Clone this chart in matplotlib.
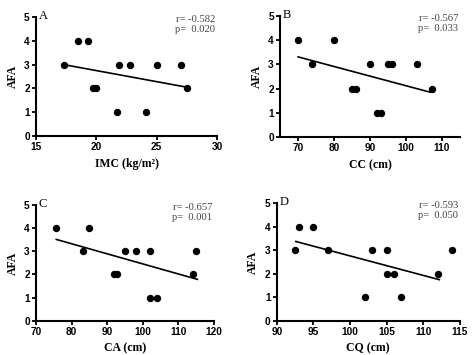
import matplotlib.pyplot as plt

# panel A: IMC
imc_x = [17.3, 18.5, 19.3, 19.7, 20.0, 21.7, 21.85, 22.8, 24.1, 25.0, 27.0, 27.5]
imc_y = [3, 4, 4, 2, 2, 1, 3, 3, 1, 3, 3, 2]
imc_fit = ([17.3, 27.5], [3.0, 2.05])

# panel B: CC
cc_x = [70, 74, 80, 85, 86, 90, 92, 93, 95, 96, 103, 107.3]
cc_y = [4, 3, 4, 2, 2, 3, 1, 1, 3, 3, 3, 2]
cc_fit = ([70, 106.8], [3.31, 1.85])

# panel C: CA
ca_x = [75.7, 83.2, 84.8, 91.8, 92.7, 94.9, 98, 102, 102, 104, 114.1, 115.1]
ca_y = [4, 3, 4, 2, 2, 3, 3, 3, 1, 1, 2, 3]
ca_fit = ([75.7, 115.4], [3.51, 1.79])

# panel D: CQ
cq_x = [92.5, 93.0, 95, 97, 102, 103, 105, 105, 106, 107, 112, 114]
cq_y = [3, 4, 4, 3, 1, 3, 3, 2, 2, 1, 2, 3]
cq_fit = ([92.6, 112.2], [3.37, 1.75])

panels = [
    ("A", imc_x, imc_y, imc_fit, "IMC (kg/m\u00b2)", (15, 30), [15, 20, 25, 30], "r= -0.582\np=  0.020",
     [0.076, 0.617, 0.382, 0.335]),
    ("B", cc_x, cc_y, cc_fit, "CC (cm)", (65, 115), [70, 80, 90, 100, 110], "r= -0.567\np=  0.033",
     [0.591, 0.614, 0.379, 0.341]),
    ("C", ca_x, ca_y, ca_fit, "CA (cm)", (70, 120), [70, 80, 90, 100, 110, 120], "r= -0.657\np=  0.001",
     [0.076, 0.096, 0.375, 0.327]),
    ("D", cq_x, cq_y, cq_fit, "CQ (cm)", (90, 115), [90, 95, 100, 105, 110, 115], "r= -0.593\np=  0.050",
     [0.584, 0.096, 0.386, 0.332]),
]

fig = plt.figure(figsize=(4.74, 3.55), dpi=100)
serif = ["Liberation Serif", "DejaVu Serif"]

for letter, xs, ys, fit, xlabel, xlim, xticks, stats, pos in panels:
    ax = fig.add_axes(pos)
    ax.plot(xs, ys, "o", color="black", markersize=4.3)
    ax.plot(fit[0], fit[1], color="black", linewidth=1.2)
    ax.set_xlim(*xlim)
    ax.set_ylim(0, 5)
    ax.set_xticks(xticks)
    ax.set_yticks([0, 1, 2, 3, 4, 5])
    for s in ["top", "right"]:
        ax.spines[s].set_visible(False)
    for s in ["left", "bottom"]:
        ax.spines[s].set_linewidth(1.5)
    ax.tick_params(width=1.3, length=3, labelsize=7.3, pad=1.5)
    for lab in ax.get_xticklabels() + ax.get_yticklabels():
        lab.set_fontweight("bold")
        lab.set_family("Liberation Sans")
    ax.set_ylabel("AFA", fontsize=8.5, fontweight="bold", family=serif, labelpad=4)
    ax.set_xlabel(xlabel, fontsize=8.5, fontweight="bold", family=serif, labelpad=4)
    ax.text(0.015, 1.01, letter, transform=ax.transAxes, fontsize=9, family=serif,
            ha="left", va="center")
    ax.text(0.99, 1.02, stats, transform=ax.transAxes, fontsize=7.6, family=serif,
            color="#444444", ha="right", va="top", linespacing=1.2)

fig.savefig("out.png", dpi=100)
